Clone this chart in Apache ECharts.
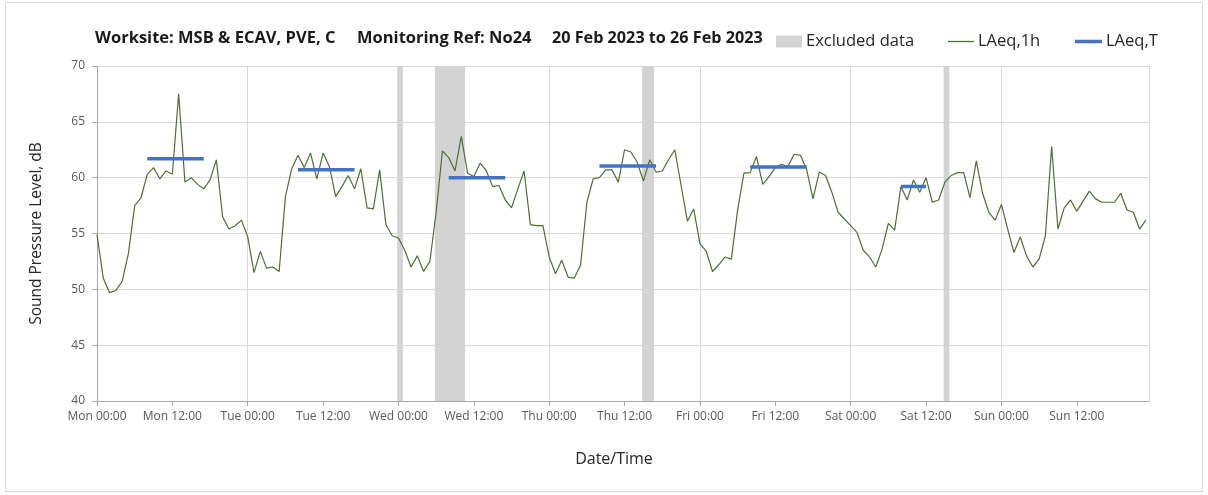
<!DOCTYPE html>
<html>
<head>
<meta charset="utf-8">
<script src="https://cdn.jsdelivr.net/npm/echarts@6/dist/echarts.min.js"></script>
<style>
html,body{margin:0;padding:0;background:#fff;}
#c{width:1208px;height:495px;}
</style>
</head>
<body>
<div id="c"></div>
<script>
// hour index from Mon 00:00 (20 Feb 2023)
const tickLabels = ['Mon 00:00','Mon 12:00','Tue 00:00','Tue 12:00','Wed 00:00','Wed 12:00','Thu 00:00','Thu 12:00','Fri 00:00','Fri 12:00','Sat 00:00','Sat 12:00','Sun 00:00','Sun 12:00'];
const yTicks = [40,45,50,55,60,65,70];

// LAeq,1h values, hours 0..167
const laeq1h = [
 54.9,51.0,49.7,49.9,50.7,53.2,57.5,58.2,60.3,60.9,59.9,60.6,60.3,67.5,59.6,60.0,59.4,59.0,59.8,61.6,56.5,55.4,55.7,56.2,
 54.7,51.5,53.4,51.9,52.0,51.6,58.3,60.8,62.0,60.9,62.2,59.9,62.2,61.0,58.3,59.2,60.2,59.0,60.8,57.3,57.2,60.7,55.8,54.8,
 54.6,53.5,52.0,53.0,51.6,52.5,56.9,62.4,61.8,60.6,63.7,60.4,60.1,61.3,60.6,59.2,59.3,58.0,57.3,59.0,60.6,55.8,55.7,55.7,
 52.9,51.4,52.6,51.1,51.0,52.2,57.8,59.9,60.0,60.7,60.7,59.6,62.5,62.3,61.4,59.7,61.6,60.5,60.6,61.6,62.5,59.3,56.1,57.2,
 54.1,53.4,51.6,52.2,52.9,52.7,57.1,60.4,60.45,61.9,59.4,60.1,60.9,61.2,61.0,62.1,62.0,60.7,58.1,60.5,60.2,58.7,56.9,56.3,
 55.7,55.1,53.5,52.9,52.0,53.6,55.9,55.3,59.2,58.0,59.8,58.7,60.0,57.8,58.0,59.6,60.2,60.45,60.45,58.2,61.5,58.6,56.9,56.2,
 57.6,55.4,53.3,54.7,53.0,52.0,52.7,54.8,62.8,55.4,57.3,58.0,57.0,57.9,58.8,58.1,57.8,57.8,57.8,58.6,57.1,56.9,55.4,56.2
];

// LAeq,T daytime periods (hour start, hour end, level)
const tStart = [8, 32, 56, 80, 104, 128];
const tEnd   = [17, 41, 65, 89, 113, 132];
const tLevel = [61.7, 60.7, 60.0, 61.05, 60.95, 59.2];

// Excluded data periods (hours)
const exclStart = [47.8, 53.8, 86.8, 134.8];
const exclEnd   = [48.7, 58.6, 88.7, 135.7];

const lineData = laeq1h.map((v, i) => [i, v]);
const tData = [];
tStart.forEach((s, i) => {
  tData.push([s, tLevel[i]]);
  tData.push([tEnd[i], tLevel[i]]);
  tData.push([tEnd[i], null]);
});
const exclAreas = exclStart.map((s, i) => [{xAxis: s}, {xAxis: exclEnd[i]}]);

const FONT = 'Open Sans';
const titleStyle = {fontFamily: FONT, fontSize: 16.5, fontWeight: 'bold', color: '#1a1a1a'};
const legText = {fontFamily: FONT, fontSize: 16.5, color: '#262626', padding: [0, 0, 0, -1]};
const chart = echarts.init(document.getElementById('c'), null, {renderer: 'canvas'});
chart.setOption({
  animation: false,
  backgroundColor: '#fff',
  title: [
    {text: 'Worksite: MSB & ECAV, PVE, C', left: 95, top: 30, padding: 0, textStyle: titleStyle},
    {text: 'Monitoring Ref: No24', left: 357, top: 30, padding: 0, textStyle: titleStyle},
    {text: '20 Feb 2023 to 26 Feb 2023', left: 552, top: 30, padding: 0, textStyle: Object.assign({}, titleStyle, {fontSize: 16.2})}
  ],
  legend: [
    {data: [{name: 'Excluded data', icon: 'rect'}], left: 776, top: 33, padding: 0, itemWidth: 26, itemHeight: 12,
     textStyle: legText},
    {data: [{name: 'LAeq,1h', icon: 'rect'}], left: 948, top: 33, padding: 0, itemWidth: 26, itemHeight: 1.3,
     textStyle: legText},
    {data: [{name: 'LAeq,T', icon: 'rect'}], left: 1075, top: 33, padding: 0, itemWidth: 27, itemHeight: 3.5,
     textStyle: legText}
  ],
  graphic: [
    {type: 'rect', shape: {x: 5.5, y: 2.5, width: 1197, height: 489}, style: {fill: 'none', stroke: '#d9d9d9', lineWidth: 1}, silent: true, z: -10}
  ],
  grid: {left: 97, top: 66, width: 1052, height: 335, containLabel: false},
  xAxis: [
    {
      type: 'value', min: 0, max: 167.5, interval: 12,
      name: 'Date/Time', nameLocation: 'middle', nameGap: 50,
      nameTextStyle: {fontFamily: FONT, fontSize: 16, color: '#262626', padding: [0, 18, 0, 0]},
      axisLine: {show: true, lineStyle: {color: '#a6a6a6', width: 1}},
      axisTick: {show: true, length: 5, lineStyle: {color: '#a6a6a6'}},
      axisLabel: {
        margin: 10, fontFamily: FONT, fontSize: 12, color: '#595959',
        showMaxLabel: false,
        formatter: v => (v % 12 === 0 && tickLabels[v / 12] !== undefined) ? tickLabels[v / 12] : ''
      },
      splitLine: {show: false}
    },
    {
      type: 'value', min: 0, max: 167.5, interval: 24, position: 'bottom',
      axisLine: {show: false}, axisTick: {show: false}, axisLabel: {show: false},
      splitLine: {show: true, lineStyle: {color: '#d9d9d9', width: 1}}
    }
  ],
  yAxis: {
    type: 'value', min: 40, max: 70, interval: 5,
    name: 'Sound Pressure Level, dB', nameLocation: 'middle', nameGap: 52,
    nameTextStyle: {fontFamily: FONT, fontSize: 15.5, color: '#262626'},
    axisLine: {show: true, lineStyle: {color: '#a6a6a6', width: 1}},
    axisTick: {show: true, length: 5, lineStyle: {color: '#a6a6a6'}},
    axisLabel: {margin: 12, fontFamily: FONT, fontSize: 12, color: '#595959',
      formatter: v => yTicks.indexOf(v) >= 0 ? String(v) : ''},
    splitLine: {show: true, lineStyle: {color: '#d9d9d9', width: 1}}
  },
  series: [
    {
      name: 'Excluded data', type: 'line', xAxisIndex: 0, data: [], color: '#d3d3d3',
      itemStyle: {color: '#d3d3d3'}, z: 1,
      markArea: {silent: true, itemStyle: {color: '#d3d3d3', opacity: 1}, data: exclAreas}
    },
    {
      name: 'LAeq,1h', type: 'line', xAxisIndex: 0, data: lineData, symbol: 'none', showSymbol: false,
      color: '#4f6f2f', itemStyle: {color: '#4f6f2f'}, lineStyle: {color: '#4f6f2f', width: 1.2}, z: 3
    },
    {
      name: 'LAeq,T', type: 'line', xAxisIndex: 0, data: tData, symbol: 'none', showSymbol: false,
      connectNulls: false, color: '#4472c4', itemStyle: {color: '#4472c4'}, lineStyle: {color: '#4472c4', width: 3.5}, z: 4
    }
  ]
});
</script>
</body>
</html>
